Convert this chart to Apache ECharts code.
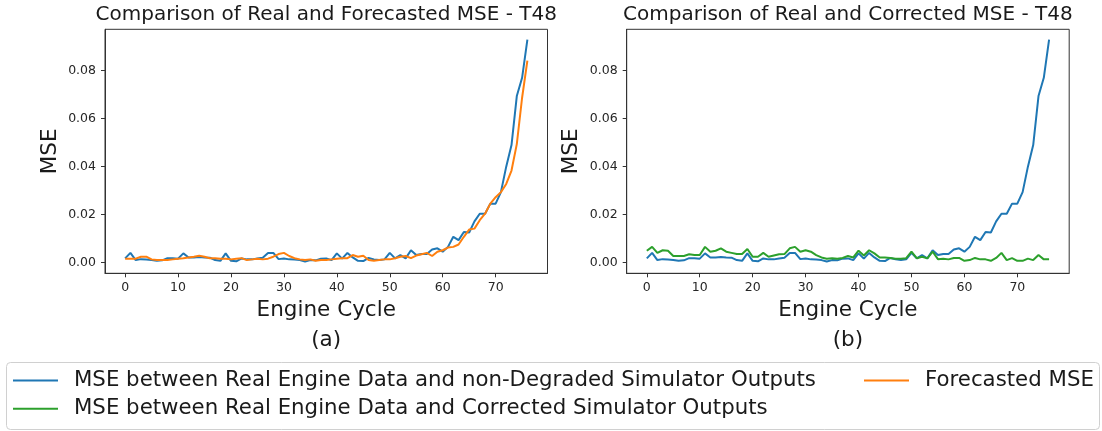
<!DOCTYPE html>
<html>
<head>
<meta charset="utf-8">
<script src="https://cdn.jsdelivr.net/npm/echarts@6/dist/echarts.min.js"></script>
<style>
html,body{margin:0;padding:0;background:#fff;}
#chart{width:1102px;height:431px;}
</style>
</head>
<body>
<div id="chart"></div>
<script>
// ---- data ----
const cycles = [0,1,2,3,4,5,6,7,8,9,10,11,12,13,14,15,16,17,18,19,20,21,22,23,24,25,26,27,28,29,30,31,32,33,34,35,36,37,38,39,40,41,42,43,44,45,46,47,48,49,50,51,52,53,54,55,56,57,58,59,60,61,62,63,64,65,66,67,68,69,70,71,72,73,74,75,76];

const mseNonDegraded = [0.0018,0.0041,0.0011,0.0015,0.0013,0.0011,0.0008,0.0010,0.0019,0.0019,0.0017,0.0039,0.0022,0.0022,0.0024,0.0022,0.0021,0.0011,0.0008,0.0039,0.0008,0.0006,0.0018,0.0014,0.0014,0.0018,0.0021,0.0041,0.0041,0.0015,0.0018,0.0014,0.0013,0.0011,0.0005,0.0011,0.0010,0.0017,0.0018,0.0011,0.0039,0.0017,0.0041,0.0022,0.0008,0.0007,0.0020,0.0014,0.0011,0.0014,0.0041,0.0018,0.0032,0.0018,0.0052,0.0032,0.0036,0.0036,0.0055,0.0060,0.0046,0.0066,0.0108,0.0094,0.0128,0.0126,0.0172,0.0204,0.0204,0.0246,0.0246,0.0294,0.0400,0.0490,0.0694,0.0770,0.0929];

const mseForecast = [0.0017,0.0017,0.0017,0.0025,0.0025,0.0014,0.0011,0.0011,0.0011,0.0014,0.0017,0.0019,0.0022,0.0025,0.0029,0.0025,0.0019,0.0019,0.0017,0.0017,0.0014,0.0017,0.0019,0.0011,0.0014,0.0017,0.0014,0.0017,0.0025,0.0036,0.0041,0.0028,0.0019,0.0014,0.0011,0.0014,0.0008,0.0011,0.0011,0.0014,0.0017,0.0019,0.0019,0.0032,0.0025,0.0029,0.0011,0.0008,0.0011,0.0014,0.0014,0.0019,0.0025,0.0028,0.0019,0.0030,0.0035,0.0041,0.0028,0.0046,0.0052,0.0063,0.0066,0.0076,0.0108,0.0138,0.0142,0.0177,0.0204,0.0246,0.0273,0.0294,0.0328,0.0384,0.0494,0.0687,0.0842];

const mseCorrected = [0.0050,0.0066,0.0041,0.0052,0.0050,0.0028,0.0028,0.0028,0.0035,0.0032,0.0032,0.0066,0.0046,0.0050,0.0060,0.0046,0.0041,0.0036,0.0036,0.0057,0.0025,0.0025,0.0041,0.0025,0.0030,0.0035,0.0036,0.0060,0.0066,0.0046,0.0052,0.0046,0.0032,0.0022,0.0017,0.0019,0.0017,0.0020,0.0028,0.0022,0.0050,0.0030,0.0052,0.0039,0.0022,0.0022,0.0020,0.0017,0.0017,0.0019,0.0046,0.0019,0.0025,0.0018,0.0046,0.0015,0.0017,0.0014,0.0020,0.0020,0.0008,0.0011,0.0020,0.0014,0.0014,0.0008,0.0020,0.0041,0.0011,0.0019,0.0008,0.0008,0.0017,0.0011,0.0032,0.0014,0.0015];

const xTicks = [0,10,20,30,40,50,60,70];
const yTicks = [0,0.02,0.04,0.06,0.08];

const titles = ['Comparison of Real and Forecasted MSE - T48','Comparison of Real and Corrected MSE - T48'];
const subLabels = ['(a)','(b)'];
const xName = 'Engine Cycle';
const yName = 'MSE';
const nameNonDeg = 'MSE between Real Engine Data and non-Degraded Simulator Outputs';
const nameCorr = 'MSE between Real Engine Data and Corrected Simulator Outputs';
const nameFc = 'Forecasted MSE';

// ---- chart ----
const FONT = 'DejaVu Sans';
const TXT = '#1a1a1a';
const LBL = 21.5;
const pairs = arr => cycles.map((c,i)=>[c,arr[i]]);

const grids = [
  {left:105, top:29.3, width:442.5, height:244, show:true, borderColor:'#333', borderWidth:1, backgroundColor:'transparent'},
  {left:626.7, top:29.3, width:442.5, height:244, show:true, borderColor:'#333', borderWidth:1, backgroundColor:'transparent'}
];

function xAx(i){
  return {
    type:'value', gridIndex:i, min:-3.8, max:79.8,
    name:xName, nameLocation:'middle', nameGap:25,
    nameTextStyle:{fontFamily:FONT, fontSize:LBL, color:TXT},
    splitLine:{show:false},
    axisLine:{show:true, onZero:false, lineStyle:{color:'#333', width:1}},
    axisTick:{show:true, length:4, lineStyle:{color:'#333'}, customValues:xTicks},
    axisLabel:{fontFamily:FONT, fontSize:12.5, color:'#262626', margin:8, customValues:xTicks, formatter:v=>String(v)}
  };
}
function yAx(i){
  return {
    type:'value', gridIndex:i, min:-0.0044, max:0.0972,
    name:yName, nameLocation:'middle', nameGap:44, nameRotate:90,
    nameTextStyle:{fontFamily:FONT, fontSize:LBL, color:TXT},
    splitLine:{show:false},
    axisLine:{show:true, onZero:false, lineStyle:{color:'#333', width:1}},
    axisTick:{show:true, length:4, lineStyle:{color:'#333'}, customValues:yTicks},
    axisLabel:{fontFamily:FONT, fontSize:12.5, color:'#262626', margin:9, customValues:yTicks, formatter:v=>v.toFixed(2)}
  };
}

const BLUE='#1f77b4', ORANGE='#ff7f0e', GREEN='#2ca02c';
function line(name, data, color, xi){
  return {type:'line', name, data:pairs(data), xAxisIndex:xi, yAxisIndex:xi,
    symbol:'none', showSymbol:false, animation:false,
    lineStyle:{color, width:2}, itemStyle:{color}};
}

const legendCommon = {
  orient:'vertical', top:370, itemGap:7.3, icon:'rect',
  itemWidth:45, itemHeight:2, padding:0, selectedMode:false,
  textStyle:{fontFamily:FONT, fontSize:21.3, color:TXT, padding:[0,0,0,11]}
};

const option = {
  animation:false,
  backgroundColor:'#fff',
  title: titles.map((t,i)=>({
    text:t, left: i===0 ? 326.2 : 847.9, top:5, textAlign:'center', padding:0,
    textStyle:{fontFamily:FONT, fontSize:20, fontWeight:'normal', color:TXT}
  })),
  grid:grids,
  xAxis:[xAx(0),xAx(1)],
  yAxis:[yAx(0),yAx(1)],
  legend:[
    Object.assign({data:[nameNonDeg,nameCorr], left:13}, legendCommon),
    Object.assign({data:[nameFc], left:864}, legendCommon)
  ],
  graphic:[
    {type:'rect', z:-1, shape:{x:6.5, y:362.5, width:1093, height:67, r:4},
     style:{fill:'rgba(255,255,255,0.8)', stroke:'#d0d0d0', lineWidth:1}},
    ...subLabels.map((s,i)=>({type:'text', x: i===0 ? 326.2 : 847.9, y:340,
      style:{text:s, fontFamily:FONT, fontSize:LBL, fill:TXT, textAlign:'center', textVerticalAlign:'middle'}}))
  ],
  series:[
    line(nameNonDeg, mseNonDegraded, BLUE, 0),
    line(nameFc, mseForecast, ORANGE, 0),
    line(nameNonDeg, mseNonDegraded, BLUE, 1),
    line(nameCorr, mseCorrected, GREEN, 1)
  ]
};

const chart = echarts.init(document.getElementById('chart'), null, {renderer:'canvas'});
chart.setOption(option);
</script>
</body>
</html>
